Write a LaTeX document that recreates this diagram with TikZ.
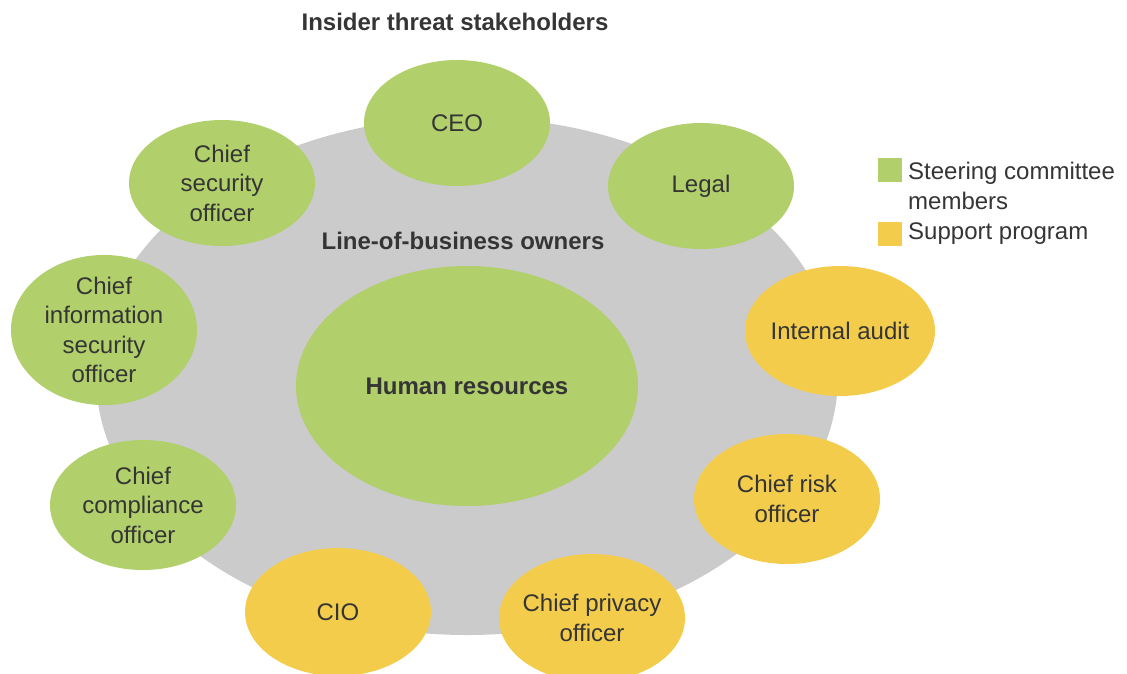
\documentclass[tikz,border=0pt]{standalone}
\usepackage{fontspec}
\setmainfont{Liberation Sans}
\usetikzlibrary{shapes.geometric,positioning}
\usepackage{xcolor}

\definecolor{leafgreen}{HTML}{B1CF6A}
\definecolor{sungold}{HTML}{F3CC4C}
\definecolor{ringgray}{HTML}{CBCBCB}
\definecolor{inkgray}{HTML}{353535}

\tikzset{
  txt/.style={text=inkgray, font=\fontsize{24}{29.5}\selectfont, align=center},
  boldtxt/.style={txt, font=\fontsize{24}{29.5}\selectfont\bfseries},
  member/.style={ellipse, fill=leafgreen, txt, inner sep=0pt,
    minimum width=186pt, minimum height=126pt},
  support/.style={member, fill=sungold},
  swatch/.style={minimum size=24pt, inner sep=0pt},
}

\begin{document}
\begin{tikzpicture}[x=1pt, y=-1pt]
  \useasboundingbox (0,0) rectangle (1127,673);

  % ---- the ring of line-of-business owners ----
  \node[ellipse, fill=ringgray, minimum width=742pt, minimum height=518pt] (ring) at (467,376) {};
  \node[boldtxt] (lob) at (463,241) {Line-of-business owners};
  \node[member, boldtxt, minimum width=342pt, minimum height=240pt] (hr) at (467,386) {Human resources};

  % steering committee members
  \node[member] (ceo)   at (457,123) {CEO};
  \node[member] (legal) at (701,186) {Legal};
  \node[member] (cso)   at (222,183) {Chief\\security\\officer};
  \node[member, minimum height=130pt, inner xsep=-6pt] (ciso) at (104,330) {Chief\\information\\security\\officer};
  \node[member, minimum height=130pt] (cco)  at (143,505) {Chief\\compliance\\officer};

  % support program (text kept inside the outline by a negative xsep)
  \node[support, minimum width=190pt, minimum height=130pt, inner xsep=-8pt] (audit) at (840,331) {Internal audit};
  \node[support, minimum height=130pt] (cro) at (787,499) {Chief risk\\officer};
  \node[support, minimum height=128pt, inner xsep=-8pt] (cpo) at (592,618) {Chief privacy\\officer};
  \node[support, minimum height=128pt] (cio) at (338,612) {CIO};

  % ---- title ----
  \node[boldtxt] (title) at (455,22) {Insider threat stakeholders};

  % ---- legend ----
  \node[swatch, fill=leafgreen] (keygreen) at (890,170) {};
  \node[txt, align=left, anchor=west, inner sep=0pt] (keygreentxt) at (908,186) {Steering committee\\members};
  \node[swatch, fill=sungold] (keygold) at (890,234) {};
  \node[txt, anchor=west, inner sep=0pt] (keygoldtxt) at (908,234) {Support program};

\end{tikzpicture}
\end{document}
